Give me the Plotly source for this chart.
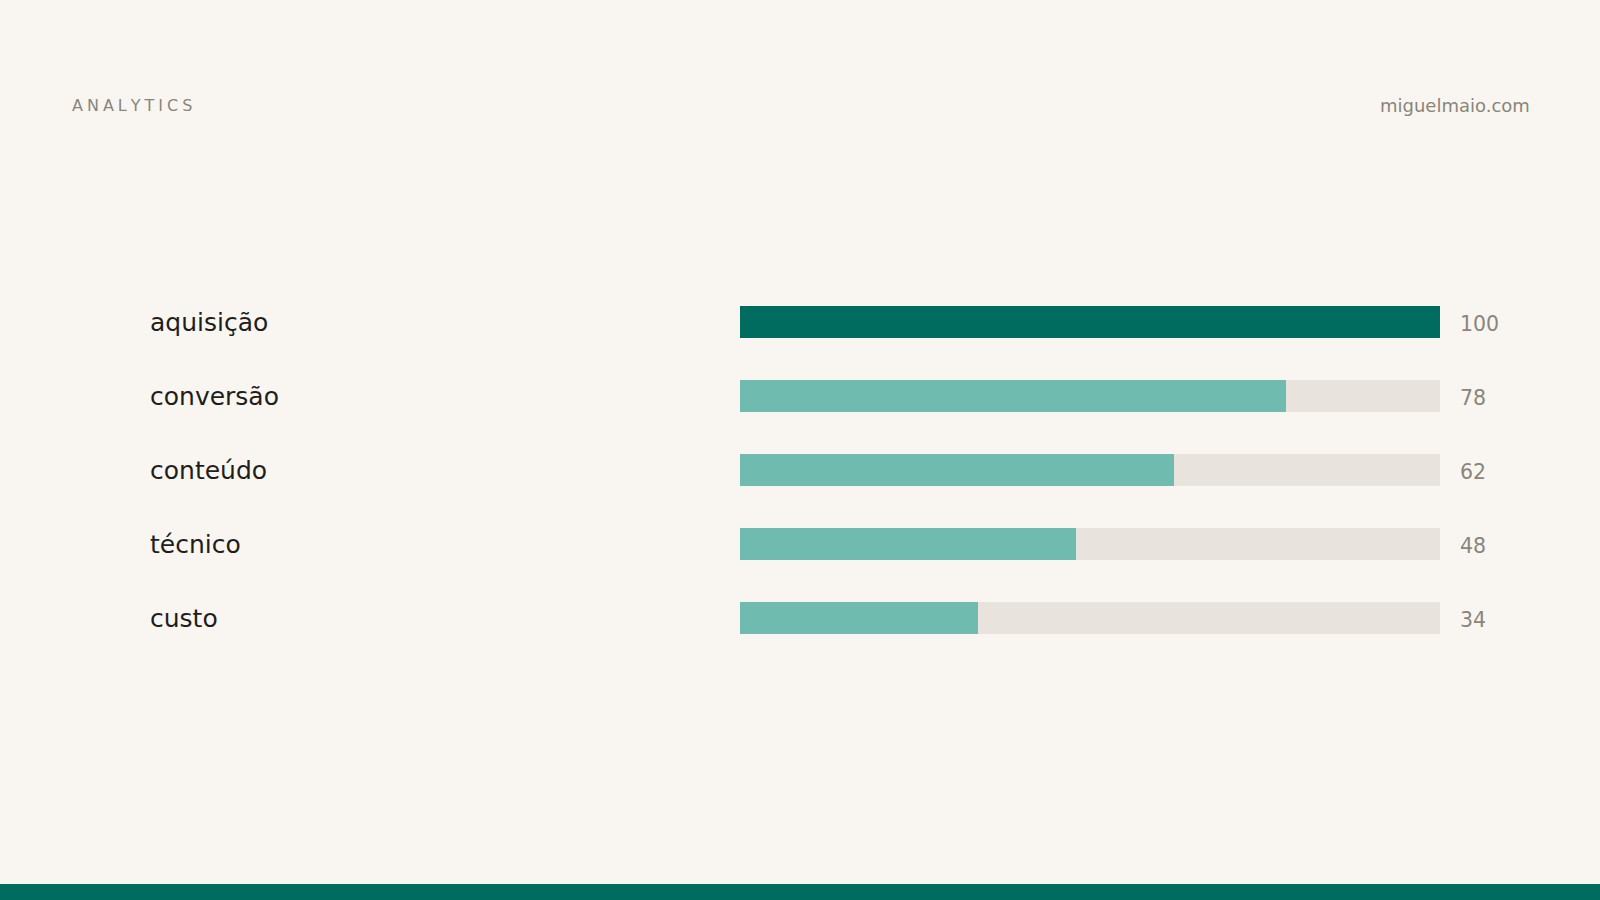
import plotly.graph_objects as go

# channel scores (0-100)
categories = ["aquisição", "conversão", "conteúdo", "técnico", "custo"]
scores = [100, 78, 62, 48, 34]
scale_max = 100

header_left = "ANALYTICS"
header_right = "miguelmaio.com"

BG = "#f9f6f1"
DARK = "#006b5f"
LIGHT = "#6fbbb0"
TRACK = "#e8e3dc"
INK = "#1f1e1c"
MUTED = "#8a857b"
FONT = "DejaVu Sans"

W, H = 1600, 900

# the top scorer gets the dark colour, the rest the light one
colors = [DARK if s == max(scores) else LIGHT for s in scores]

fig = go.Figure()

# background track for each row
fig.add_trace(go.Bar(
    y=categories, x=[scale_max] * len(categories), orientation="h",
    marker=dict(color=TRACK, line=dict(width=0)),
    width=0.432, hoverinfo="skip", showlegend=False,
))
# actual score
fig.add_trace(go.Bar(
    y=categories, x=scores, orientation="h",
    marker=dict(color=colors, line=dict(width=0)),
    width=0.432, hoverinfo="skip", showlegend=False,
))

annotations = []
for cat, s in zip(categories, scores):
    # row label on the left
    annotations.append(dict(
        x=148 / W, xref="paper", y=cat, yref="y",
        text=cat, showarrow=False, xanchor="left", yanchor="middle",
        font=dict(family=FONT, size=25, color=INK),
    ))
    # value to the right of the track
    annotations.append(dict(
        x=scale_max, xref="x", y=cat, yref="y", xshift=18, yshift=-2,
        text=str(s), showarrow=False, xanchor="left", yanchor="middle",
        font=dict(family=FONT, size=20.5, color=MUTED),
    ))

# letter-spaced header (four-per-em spaces between letters)
annotations.append(dict(
    x=70 / W, xref="paper", y=1 - 105 / H, yref="paper",
    text="\u2005".join(header_left), showarrow=False,
    xanchor="left", yanchor="middle",
    font=dict(family=FONT, size=16, color=MUTED),
))
annotations.append(dict(
    x=1532 / W, xref="paper", y=1 - 105 / H, yref="paper",
    text=header_right, showarrow=False,
    xanchor="right", yanchor="middle",
    font=dict(family=FONT, size=18, color=MUTED),
))

fig.update_layout(
    width=W, height=H,
    margin=dict(l=0, r=0, t=0, b=0),
    paper_bgcolor=BG, plot_bgcolor=BG,
    barmode="overlay",
    xaxis=dict(domain=[740 / W, 1440 / W], range=[0, scale_max],
               visible=False, fixedrange=True),
    yaxis=dict(domain=[245 / H, 615 / H], autorange="reversed",
               visible=False, fixedrange=True),
    annotations=annotations,
    shapes=[dict(type="rect", xref="paper", yref="paper",
                 x0=0, x1=1, y0=0, y1=16 / H,
                 fillcolor=DARK, line=dict(width=0), layer="below")],
)

fig.write_html(
    "out.html",
    config={"displayModeBar": False},
    post_script="document.body.style.margin='0';"
                "document.body.style.background='" + BG + "';",
)
